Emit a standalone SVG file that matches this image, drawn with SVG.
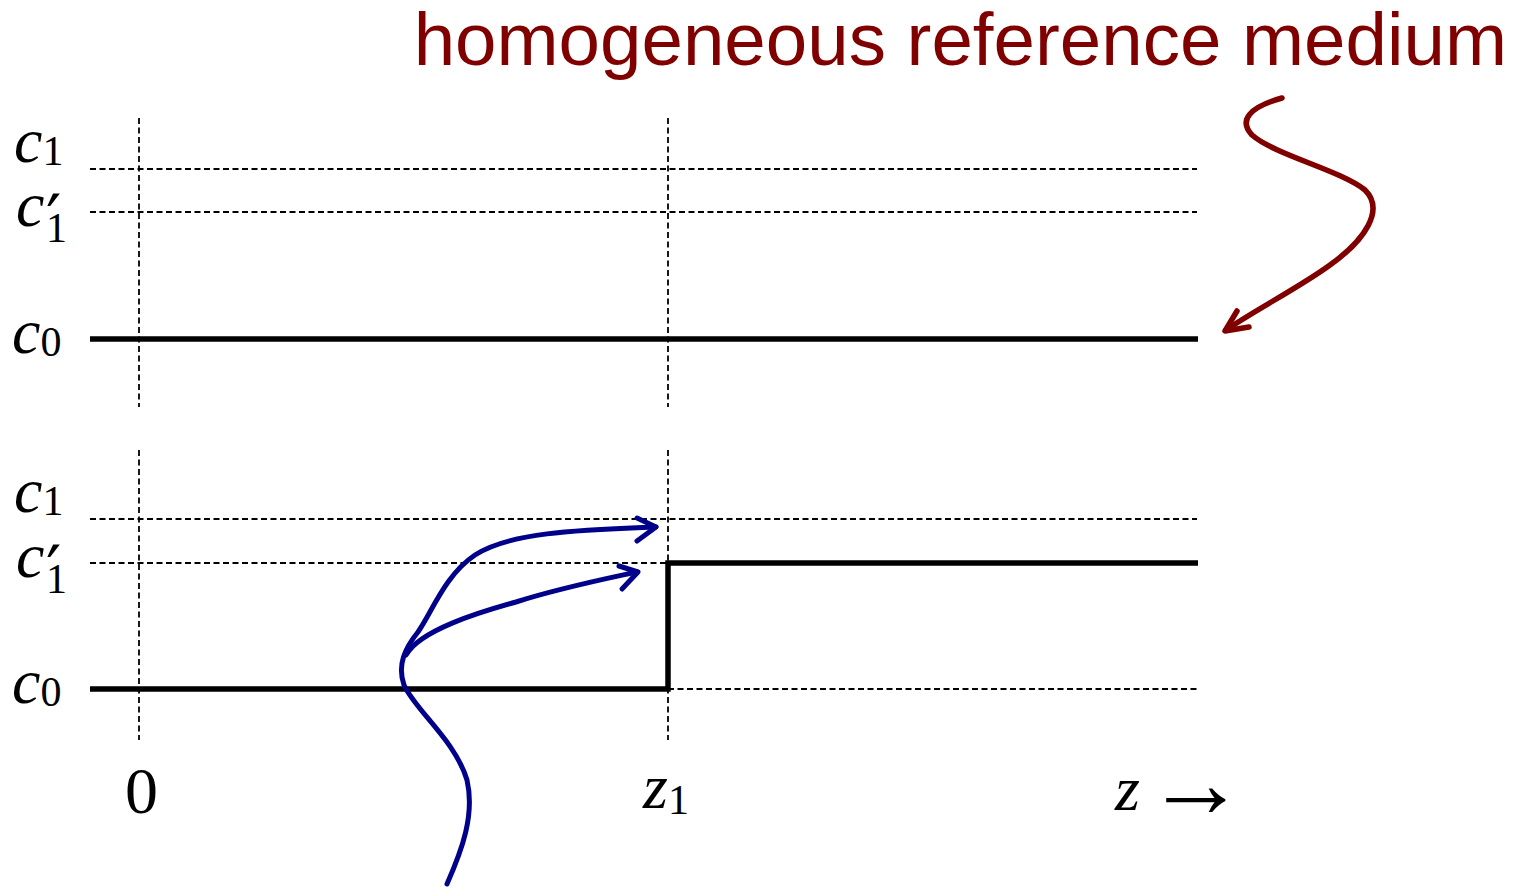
<svg xmlns="http://www.w3.org/2000/svg" width="1525" height="887" viewBox="0 0 1525 887">
<style>
.dash{stroke:#000;stroke-width:1.8;stroke-dasharray:6 3.5;fill:none}
.thick{stroke:#000;stroke-width:5.5;fill:none}
.m{font-family:"Liberation Serif","DejaVu Serif",serif;fill:#000}
.i{font-style:italic}
.pr{font-family:"DejaVu Sans",sans-serif;font-size:68px}
.blue{stroke:#00008B;stroke-width:5;fill:none;stroke-linecap:round;stroke-linejoin:round}
.red{stroke:#800000;stroke-width:5.5;fill:none;stroke-linecap:round;stroke-linejoin:round}
</style>
<rect width="1525" height="887" fill="#fff"/>
<text id="title" x="1507" y="65" text-anchor="end" font-family="Liberation Sans, Arial, sans-serif" font-size="74.5" fill="#800000">homogeneous reference medium</text>

<g id="top-panel">
<line class="dash" x1="139" y1="118" x2="139" y2="407"/>
<line class="dash" x1="668" y1="118" x2="668" y2="407"/>
<line class="dash" x1="90" y1="169" x2="1197" y2="169"/>
<line class="dash" x1="90" y1="212" x2="1197" y2="212"/>
<line class="thick" x1="90" y1="339" x2="1198" y2="339"/>
</g>
<g id="top-labels">
<text class="m" x="14" y="162" font-size="64"><tspan class="i">c</tspan><tspan font-size="42" dy="3">1</tspan></text>
<text class="m" font-size="64"><tspan class="i" x="16" y="226">c</tspan><tspan class="pr" x="46" y="243">′</tspan><tspan font-size="42" x="46" y="242">1</tspan></text>
<text class="m" x="12" y="353" font-size="64"><tspan class="i">c</tspan><tspan font-size="42" dy="3">0</tspan></text>
</g>

<g id="bottom-panel">
<line class="dash" x1="139" y1="450" x2="139" y2="740"/>
<line class="dash" x1="668" y1="450" x2="668" y2="740"/>
<line class="dash" x1="90" y1="519" x2="1197" y2="519"/>
<line class="dash" x1="90" y1="563" x2="668" y2="563"/>
<line class="dash" x1="668" y1="689" x2="1197" y2="689"/>
<polyline class="thick" points="90,689 668,689 668,563 1198,563"/>
</g>
<g id="bottom-labels">
<text class="m" x="14" y="512" font-size="64"><tspan class="i">c</tspan><tspan font-size="42" dy="3">1</tspan></text>
<text class="m" font-size="64"><tspan class="i" x="16" y="577">c</tspan><tspan class="pr" x="46" y="594">′</tspan><tspan font-size="42" x="46" y="593">1</tspan></text>
<text class="m" x="12" y="703" font-size="64"><tspan class="i">c</tspan><tspan font-size="42" dy="3">0</tspan></text>
</g>

<g id="axis-labels">
<text class="m" x="125" y="813" font-size="66">0</text>
<text class="m" x="643" y="808" font-size="64"><tspan class="i">z</tspan><tspan font-size="42" dy="6">1</tspan></text>
<text class="m" x="1115" y="810" font-size="64"><tspan class="i">z</tspan></text>
<text class="m" x="1146" y="817" font-size="100">→</text>
</g>

<g id="connectors">
<path class="red" d="M1282,98 C1250,107 1238,120 1252,135 C1275,155 1340,170 1365,190 C1385,210 1365,240 1330,265 C1300,287 1255,310 1226,330"/>
<path class="red" d="M1237,311 L1225,331 L1249,327"/>
<path class="blue" d="M447,884 C462,850 475,815 467,780 C455,740 415,710 404,685 C397,665 405,648 418,632 C432,612 445,575 475,555 C510,532 580,530 656,527"/>
<path class="blue" d="M637,518 L656,527 L637,541"/>
<path class="blue" d="M406,655 C420,630 480,612 516,602 C560,588 600,580 637,572"/>
<path class="blue" d="M619,566 L638,572 L622,589"/>
</g>
</svg>
